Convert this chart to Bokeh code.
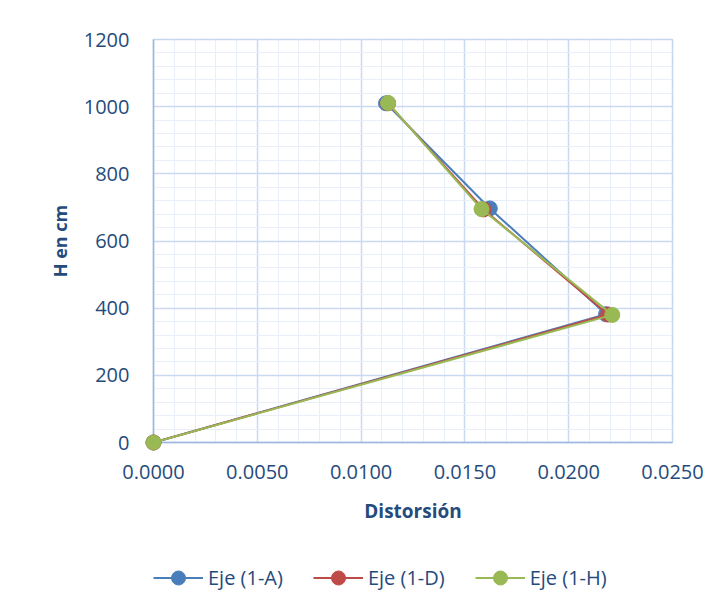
from bokeh.plotting import figure
from bokeh.layouts import column
from bokeh.models import Legend, LegendItem, Range1d, SingleIntervalTicker, NumeralTickFormatter
from bokeh.embed import file_html
from bokeh.resources import INLINE

# Data
series_names = ["Eje (1-A)", "Eje (1-D)", "Eje (1-H)"]
dist_A = [0.0, 0.0218, 0.0162, 0.0112]
h_A = [0, 382, 697, 1010]
dist_D = [0.0, 0.0219, 0.0159, 0.0113]
h_D = [0, 381, 694, 1010]
dist_H = [0.0, 0.0221, 0.0158, 0.0113]
h_H = [0, 380, 695, 1011]
series = [(dist_A, h_A), (dist_D, h_D), (dist_H, h_H)]

colors = ["#4a7ebb", "#be4b48", "#98b954"]
text_color = "#254b7c"
FONT = "Open Sans"

p = figure(output_backend="svg", toolbar_location=None,
           x_range=Range1d(0, 0.025), y_range=Range1d(0, 1200),
           frame_width=519, frame_height=403,
           min_border_left=153, min_border_top=39, min_border_right=45, min_border_bottom=100)
p.background_fill_color = "white"
p.border_fill_color = "white"
p.outline_line_color = "#c5d7ee"
p.outline_line_width = 1.5

p.xaxis.ticker = SingleIntervalTicker(interval=0.005, num_minor_ticks=5)
p.yaxis.ticker = SingleIntervalTicker(interval=200, num_minor_ticks=5)
p.xaxis.formatter = NumeralTickFormatter(format="0.0000")

for ax in (p.xaxis, p.yaxis):
    ax.major_tick_line_color = None
    ax.minor_tick_line_color = None
    ax.axis_line_color = "#9ab8df"
    ax.axis_line_width = 1.5
    ax.major_label_text_font = FONT
    ax.major_label_text_font_size = "20px"
    ax.major_label_text_color = text_color
    ax.axis_label_text_font = FONT
    ax.axis_label_text_font_style = "bold"
    ax.axis_label_text_color = text_color

p.xaxis.axis_label = "Distorsión"
p.yaxis.axis_label = "H en cm"
p.xaxis.axis_label_text_font_size = "19px"
p.yaxis.axis_label_text_font_size = "18px"
p.xaxis.major_label_standoff = 16
p.yaxis.major_label_standoff = 18
p.xaxis.axis_label_standoff = 16
p.yaxis.axis_label_standoff = 9

for g in (p.xgrid, p.ygrid):
    g.grid_line_color = "#c9daf0"
    g.grid_line_width = 1.5
    g.minor_grid_line_color = "#e8eff8"
    g.minor_grid_line_width = 1

for (xs, ys), c in zip(series, colors):
    p.line(xs, ys, line_color=c, line_width=2, level="overlay")
    p.scatter(xs, ys, size=15, fill_color=c, line_color=c, level="overlay")

# Legend strip: a second figure whose view excludes the data, hosting the legend
lf = figure(output_backend="svg", toolbar_location=None, width=717, height=80,
            x_range=Range1d(0, 0.025), y_range=Range1d(-2, -1),
            x_axis_type=None, y_axis_type=None, min_border=0)
lf.outline_line_color = None
lf.background_fill_color = "white"
lf.border_fill_color = "white"
items = []
for (xs, ys), c, name in zip(series, colors, series_names):
    ln = lf.line(xs, ys, line_color=c, line_width=2)
    sc = lf.scatter(xs, ys, size=15, fill_color=c, line_color=c)
    items.append(LegendItem(label=name, renderers=[ln, sc]))

legend = Legend(items=items, orientation="horizontal", location=(0, 27),
                label_text_font=FONT, label_text_font_size="20px", label_text_color=text_color,
                glyph_width=50, glyph_height=35, label_height=35, label_standoff=5, spacing=30,
                padding=0, margin=0, border_line_color=None, background_fill_alpha=0)
lf.add_layout(legend)

layout = column(p, lf, spacing=0)
open("out.html", "w").write(file_html(layout, INLINE))
